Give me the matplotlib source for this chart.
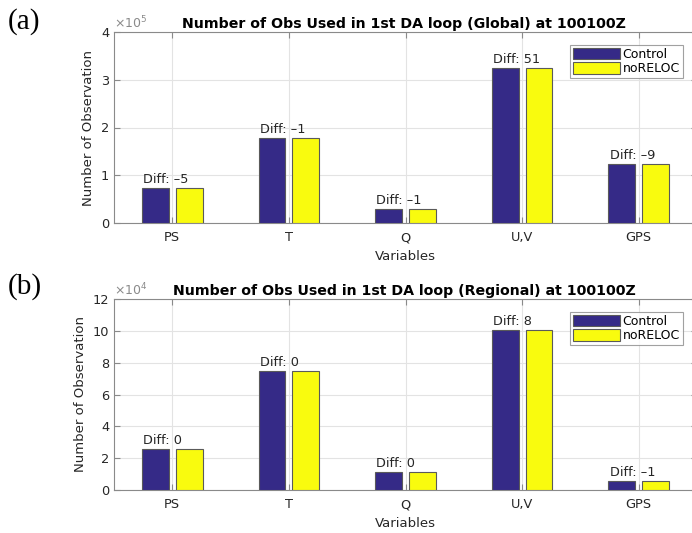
import matplotlib
matplotlib.use("Agg")
import matplotlib.pyplot as plt
import numpy as np
from matplotlib.ticker import MultipleLocator

categories = ["PS", "T", "Q", "U,V", "GPS"]
global_control = [0.73e5, 1.775e5, 0.29e5, 3.24e5, 1.23e5]
global_noreloc = [0.73e5, 1.775e5, 0.29e5, 3.24e5, 1.23e5]
global_diff = [-5, -1, -1, 51, -9]
regional_control = [2.56e4, 7.47e4, 1.11e4, 10.05e4, 0.57e4]
regional_noreloc = [2.56e4, 7.47e4, 1.11e4, 10.05e4, 0.57e4]
regional_diff = [0, 0, 0, 8, -1]

titles = ["Number of Obs Used in 1st DA loop (Global) at 100100Z",
          "Number of Obs Used in 1st DA loop (Regional) at 100100Z"]
panel_labels = ["(a)", "(b)"]

c_blue = "#352a87"
c_yellow = "#f9fb0e"
tick_col = "#262626"
axis_col = "#8a8a8a"

W, H = 692, 533
fig = plt.figure(figsize=(W / 100, H / 100), dpi=100)

def add_ax(left, top, right, bottom):
    return fig.add_axes([left / W, 1 - bottom / H, (right - left) / W, (bottom - top) / H])

ax1 = add_ax(114, 32, 697, 223)
ax2 = add_ax(114, 299, 697, 490)

specs = [
    (ax1, global_control, global_noreloc, global_diff, 1e5, 4, 1, "×10$^{5}$"),
    (ax2, regional_control, regional_noreloc, regional_diff, 1e4, 12, 2, "×10$^{4}$"),
]

x = np.arange(1, len(categories) + 1)
bw = 0.23
off = 0.145
for i, (ax, ctl, nor, dif, scale, ymax, step, mult) in enumerate(specs):
    ctl_s = np.array(ctl) / scale
    nor_s = np.array(nor) / scale
    ax.bar(x - off, ctl_s, bw, color=c_blue, edgecolor="#5a5a5a", linewidth=0.8,
           label="Control", zorder=3)
    ax.bar(x + off, nor_s, bw, color=c_yellow, edgecolor="#5a5a5a", linewidth=0.8,
           label="noRELOC", zorder=3)
    for xi, yi, d in zip(x, ctl_s, dif):
        ax.text(xi - off - bw / 2 + 0.01, yi + ymax * 0.01, f"Diff: {d}".replace("-", "\u2013"),
                ha="left", va="bottom", fontsize=9.3, color=tick_col, zorder=4)
    ax.set_xlim(0.5, 5.5)
    ax.set_ylim(0, ymax)
    ax.yaxis.set_major_locator(MultipleLocator(step))
    ax.set_xticks(x)
    ax.set_xticklabels(categories)
    ax.grid(True, color="#e3e3e3", linewidth=0.8, zorder=0)
    ax.set_axisbelow(True)
    for s in ax.spines.values():
        s.set_color(axis_col)
        s.set_linewidth(0.8)
    ax.tick_params(direction="in", length=4, colors=axis_col, labelcolor=tick_col,
                   labelsize=9.3, top=True, right=True)
    ax.tick_params(axis="x", pad=6)
    ax.set_ylabel("Number of Observation", fontsize=9.5, color=tick_col, labelpad=4)
    ax.set_xlabel("Variables", fontsize=9.5, color=tick_col, labelpad=4)
    ax.set_title(titles[i], fontsize=10.2, fontweight="bold", color="black", pad=3, x=0.498)
    ax.text(0.0, 1.005, mult, transform=ax.transAxes, ha="left", va="bottom",
            fontsize=9, color="#8a8a8a")
    leg = ax.legend(loc="upper right", bbox_to_anchor=(0.976, 0.932), fontsize=9,
                    frameon=True, fancybox=False, edgecolor="#8a8a8a",
                    handlelength=3.8, handleheight=1.0, handletextpad=0.2,
                    borderpad=0.25, labelspacing=0.1, borderaxespad=0)
    leg.get_frame().set_linewidth(0.8)
    fig.text(8 / W, 1 - (22 if i == 0 else 287) / H, panel_labels[i],
             fontsize=21, family="Liberation Serif", va="center", ha="left")

fig.savefig("out.png", dpi=100, facecolor="white")
